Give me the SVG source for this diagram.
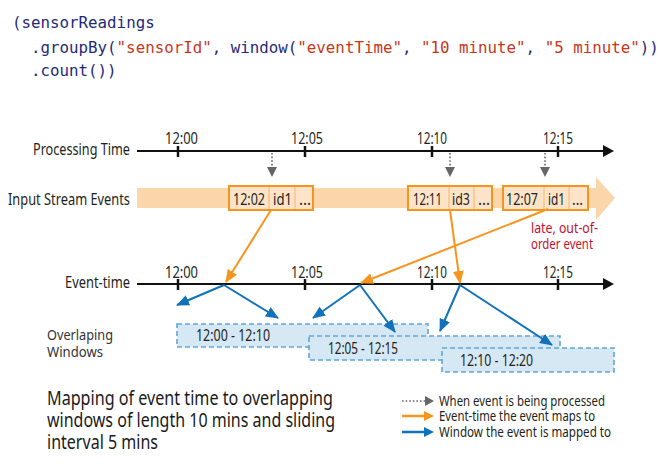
<svg xmlns="http://www.w3.org/2000/svg" width="671" height="465" viewBox="0 0 671 465">
<style>
.code{font-family:"DejaVu Sans Mono","Liberation Mono",monospace;font-size:15.8px;fill:#1f2a78}
.str{fill:#c8361c}
.t{font-family:"Noto Sans","Open Sans",sans-serif;fill:#231f20}
.lbl{font-size:17px}
.tick{font-size:17px}
.box{font-size:17px}
.win{font-size:17px}
.late{font-size:14px;fill:#c8102e}
.cap{font-size:20px;fill:#1a1a1a}
.leg{font-size:14px}
.axis{stroke:#111;stroke-width:2;fill:none}
.tk{stroke:#111;stroke-width:2.5}
.ah{fill:#111}
.dot{stroke:#666;stroke-width:1.6;stroke-dasharray:1.6,2;fill:none}
.dothead{fill:#666}
.or{stroke:#f7941d;stroke-width:2;fill:none}
.bl{stroke:#0f72ba;stroke-width:2;fill:none}
.ebox{fill:#fde4c8;stroke:#f7941d;stroke-width:2}
.div{stroke:#f9b46a;stroke-width:1}
.wbox{fill:#d7e8f5;stroke:#5fa6da;stroke-width:1.6;stroke-dasharray:5,3}
</style>
<defs>
<marker id="mOr" markerUnits="userSpaceOnUse" markerWidth="13" markerHeight="11" refX="12" refY="5.5" orient="auto"><path d="M0,0 L13,5.5 L0,11 z" fill="#f7941d"/></marker>
<marker id="mBl" markerUnits="userSpaceOnUse" markerWidth="13" markerHeight="11" refX="12" refY="5.5" orient="auto"><path d="M0,0 L13,5.5 L0,11 z" fill="#0f72ba"/></marker>
</defs>

<g id="code">
<text class="code" x="12" y="28">(sensorReadings</text>
<text class="code" x="31" y="53">.groupBy(<tspan class="str">"sensorId"</tspan>, window(<tspan class="str">"eventTime"</tspan>, <tspan class="str">"10 minute"</tspan>, <tspan class="str">"5 minute"</tspan>))</text>
<text class="code" x="31" y="76">.count())</text>
</g>

<g id="processing-time">
<text class="t lbl" x="33" y="155" textLength="97" lengthAdjust="spacingAndGlyphs">Processing Time</text>
<line class="axis" x1="137" y1="151" x2="605" y2="151"/>
<path class="ah" d="M603,145 L614,151 L603,157 z"/>
<line class="tk" x1="178" y1="146" x2="178" y2="157"/>
<line class="tk" x1="305" y1="146" x2="305" y2="157"/>
<line class="tk" x1="432" y1="146" x2="432" y2="157"/>
<line class="tk" x1="558" y1="146" x2="558" y2="157"/>
<text class="t tick" x="165" y="144" textLength="33" lengthAdjust="spacingAndGlyphs">12:00</text>
<text class="t tick" x="291" y="144" textLength="32" lengthAdjust="spacingAndGlyphs">12:05</text>
<text class="t tick" x="417" y="144" textLength="30" lengthAdjust="spacingAndGlyphs">12:10</text>
<text class="t tick" x="543" y="144" textLength="30" lengthAdjust="spacingAndGlyphs">12:15</text>
</g>

<g id="input-stream">
<text class="t lbl" x="8" y="205" textLength="122" lengthAdjust="spacingAndGlyphs">Input Stream Events</text>
<path d="M137,188 L596,188 L596,177 L615,198 L596,220 L596,208 L137,208 z" fill="#fcd6ab"/>
</g>

<g id="event-1202">
<rect class="ebox" x="229" y="186" width="84" height="24"/>
<line class="div" x1="269" y1="187" x2="269" y2="209"/>
<line class="div" x1="295" y1="187" x2="295" y2="209"/>
<text class="t box" x="233" y="205" textLength="32" lengthAdjust="spacingAndGlyphs">12:02</text>
<text class="t box" x="273" y="205" textLength="19" lengthAdjust="spacingAndGlyphs">id1</text>
<text class="t box" x="299" y="205" textLength="12" lengthAdjust="spacingAndGlyphs">...</text>
</g>

<g id="event-1211">
<rect class="ebox" x="408" y="186" width="84" height="24"/>
<line class="div" x1="449" y1="187" x2="449" y2="209"/>
<line class="div" x1="474" y1="187" x2="474" y2="209"/>
<text class="t box" x="413" y="205" textLength="29" lengthAdjust="spacingAndGlyphs">12:11</text>
<text class="t box" x="452" y="205" textLength="18" lengthAdjust="spacingAndGlyphs">id3</text>
<text class="t box" x="478" y="205" textLength="12" lengthAdjust="spacingAndGlyphs">...</text>
</g>

<g id="event-1207">
<rect class="ebox" x="503" y="186" width="85" height="24"/>
<line class="div" x1="544" y1="187" x2="544" y2="209"/>
<line class="div" x1="569" y1="187" x2="569" y2="209"/>
<text class="t box" x="506" y="205" textLength="32" lengthAdjust="spacingAndGlyphs">12:07</text>
<text class="t box" x="548" y="205" textLength="17" lengthAdjust="spacingAndGlyphs">id1</text>
<text class="t box" x="572" y="205" textLength="11" lengthAdjust="spacingAndGlyphs">...</text>
</g>

<g id="late-note">
<text class="t late" x="531" y="233" textLength="67" lengthAdjust="spacingAndGlyphs">late, out-of-</text>
<text class="t late" x="531" y="249" textLength="62" lengthAdjust="spacingAndGlyphs">order event</text>
</g>

<g id="event-time">
<text class="t lbl" x="65" y="288" textLength="65" lengthAdjust="spacingAndGlyphs">Event-time</text>
<line class="axis" x1="137" y1="284" x2="605" y2="284"/>
<path class="ah" d="M603,278 L614,284 L603,290 z"/>
<line class="tk" x1="178" y1="279" x2="178" y2="290"/>
<line class="tk" x1="305" y1="279" x2="305" y2="290"/>
<line class="tk" x1="432" y1="279" x2="432" y2="290"/>
<line class="tk" x1="558" y1="279" x2="558" y2="290"/>
<text class="t tick" x="165" y="278" textLength="33" lengthAdjust="spacingAndGlyphs">12:00</text>
<text class="t tick" x="291" y="278" textLength="32" lengthAdjust="spacingAndGlyphs">12:05</text>
<text class="t tick" x="417" y="278" textLength="30" lengthAdjust="spacingAndGlyphs">12:10</text>
<text class="t tick" x="543" y="278" textLength="30" lengthAdjust="spacingAndGlyphs">12:15</text>
</g>

<g id="windows-label">
<text class="t" x="47" y="340" textLength="66" lengthAdjust="spacingAndGlyphs" style="font-size:15px;fill:#333">Overlaping</text>
<text class="t" x="47" y="357" textLength="56" lengthAdjust="spacingAndGlyphs" style="font-size:15px;fill:#333">Windows</text>
</g>

<g id="window-1200">
<rect class="wbox" x="177" y="324" width="251" height="23"/>
<text class="t win" x="196" y="341" textLength="74" lengthAdjust="spacingAndGlyphs">12:00 - 12:10</text>
</g>
<g id="window-1205">
<rect class="wbox" x="309" y="336" width="251" height="24"/>
<text class="t win" x="328" y="354" textLength="70" lengthAdjust="spacingAndGlyphs">12:05 - 12:15</text>
</g>
<g id="window-1210">
<rect class="wbox" x="442" y="348" width="172" height="24"/>
<text class="t win" x="460" y="366" textLength="73" lengthAdjust="spacingAndGlyphs">12:10 - 12:20</text>
</g>

<g id="connectors">
<line class="dot" x1="272" y1="153" x2="272" y2="168"/>
<path class="dothead" d="M267,167 L277,167 L272,177 z"/>
<line class="dot" x1="450" y1="153" x2="450" y2="168"/>
<path class="dothead" d="M445,167 L455,167 L450,177 z"/>
<line class="dot" x1="545" y1="153" x2="545" y2="168"/>
<path class="dothead" d="M540,167 L550,167 L545,177 z"/>

<line class="or" x1="271" y1="210" x2="226" y2="282" marker-end="url(#mOr)"/>
<line class="or" x1="548" y1="209" x2="361" y2="283" marker-end="url(#mOr)"/>
<line class="or" x1="450" y1="210" x2="460" y2="283" marker-end="url(#mOr)"/>

<line class="bl" x1="224" y1="285" x2="177" y2="305" marker-end="url(#mBl)"/>
<line class="bl" x1="224" y1="285" x2="278" y2="318" marker-end="url(#mBl)"/>
<line class="bl" x1="360" y1="285" x2="313" y2="318" marker-end="url(#mBl)"/>
<line class="bl" x1="360" y1="285" x2="395" y2="332" marker-end="url(#mBl)"/>
<line class="bl" x1="460" y1="285" x2="440" y2="331" marker-end="url(#mBl)"/>
<line class="bl" x1="460" y1="285" x2="552" y2="345" marker-end="url(#mBl)"/>
</g>

<g id="caption">
<text class="t cap" x="47" y="405" textLength="286" lengthAdjust="spacingAndGlyphs">Mapping of event time to overlapping</text>
<text class="t cap" x="47" y="427" textLength="288" lengthAdjust="spacingAndGlyphs">windows of length 10 mins and sliding</text>
<text class="t cap" x="47" y="449" textLength="111" lengthAdjust="spacingAndGlyphs">interval 5 mins</text>
</g>

<g id="legend">
<line class="dot" x1="402" y1="401" x2="426" y2="401"/>
<path class="dothead" d="M425,396 L434,401 L425,406 z"/>
<line x1="402" y1="416" x2="426" y2="416" stroke="#f7941d" stroke-width="2.5"/>
<path d="M424,411 L434,416 L424,421 z" fill="#f7941d"/>
<line x1="402" y1="432" x2="426" y2="432" stroke="#0f72ba" stroke-width="2.5"/>
<path d="M424,427 L434,432 L424,437 z" fill="#0f72ba"/>
<text class="t leg" x="439" y="406" textLength="166" lengthAdjust="spacingAndGlyphs">When event is being processed</text>
<text class="t leg" x="439" y="421" textLength="156" lengthAdjust="spacingAndGlyphs">Event-time the event maps to</text>
<text class="t leg" x="439" y="437" textLength="172" lengthAdjust="spacingAndGlyphs">Window the event is mapped to</text>
</g>
</svg>
